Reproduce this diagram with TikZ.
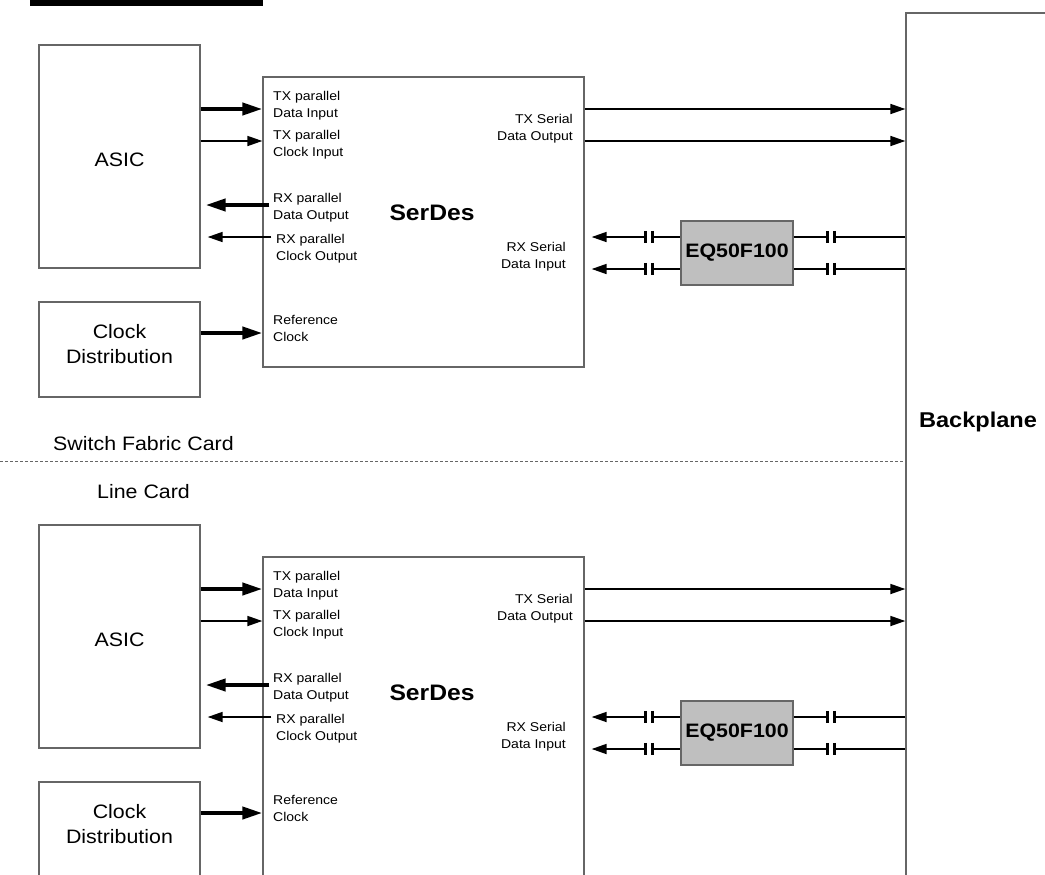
\documentclass[tikz,border=0pt]{standalone}
\usepackage{fontspec}
\setmainfont{Liberation Sans}[FakeStretch=1.1]
\usepackage{tikz}
\usetikzlibrary{arrows.meta,shapes}

\tikzset{
  blk/.style={draw=black!60,line width=1.3bp,fill=white,inner sep=0pt},
  eqbox/.style={blk,fill=black!25,font=\fontsize{19.5}{23}\selectfont\bfseries},
  pinl/.style={anchor=west,align=left,inner sep=0pt,font=\fontsize{12.8}{17}\selectfont},
  pinr/.style={anchor=east,align=right,inner sep=0pt,font=\fontsize{12.8}{17}\selectfont},
  big/.style={align=center,inner sep=0pt,font=\fontsize{19.5}{25}\selectfont},
  fat/.style={-{Triangle[length=20bp,width=12bp]},line width=4bp},
  slim/.style={-{Triangle[length=15bp,width=10bp]},line width=1.7bp},
  wire/.style={line width=1.7bp},
  capnode/.style={minimum width=6.6bp,minimum height=12bp,inner sep=0pt},
}

\begin{document}
\begin{tikzpicture}
\useasboundingbox (0bp,0bp) rectangle (1045bp,-875bp);
\clip (0bp,0bp) rectangle (1045bp,-875bp);
\fill (30bp,0bp) rectangle (263bp,-5.5bp);

% backplane and card separator
\node (BP) at (988bp,-456.5bp)[blk,minimum width=164bp,minimum height=887bp] {};
\node (BPlbl) at (978bp,-422bp)[big,font=\fontsize{21.5}{25}\selectfont\bfseries] {Backplane};
\draw [black!60,line width=1bp,dash pattern=on 3bp off 2bp] (0bp,-461.5bp) -- (BP.west |- 0,-461.5bp);
\node (SFC) at (53bp,-444bp)[anchor=west,big] {Switch Fabric Card};
\node (LC) at (97bp,-492bp)[anchor=west,big] {Line Card};

% switch fabric card
\node (ASIC1) at (119.5bp,-156.5bp)[blk,minimum width=161bp,minimum height=223bp] {};
\node (ASIC1lbl) at (119.5bp,-160bp)[big] {ASIC};
\node (CLK1) at (119.5bp,-349.5bp)[blk,minimum width=161bp,minimum height=95bp] {};
\node (CLK1lbl) at (119.5bp,-344bp)[big] {Clock\\Distribution};
\node (SER1) at (423.5bp,-222bp)[blk,minimum width=321bp,minimum height=290bp] {};
\node (SER1lbl) at (432bp,-213bp)[big,font=\fontsize{22.5}{25}\selectfont\bfseries] {SerDes};
\node (EQ1) at (737bp,-253bp)[eqbox,minimum width=112bp,minimum height=64bp] {EQ50F100};
\node (txd1) at (273bp,-105.5bp)[pinl] {TX parallel\\Data Input};
\node (txc1) at (273bp,-144.3bp)[pinl] {TX parallel\\Clock Input};
\node (rxd1) at (273bp,-207.8bp)[pinl] {RX parallel\\Data Output};
\node (rxc1) at (276bp,-248.5bp)[pinl] {RX parallel\\Clock Output};
\node (ref1) at (273bp,-328.8bp)[pinl] {Reference\\Clock};
\node (txs1) at (573bp,-128.5bp)[pinr] {TX Serial\\Data Output};
\node (rxs1) at (566bp,-256.8bp)[pinr] {RX Serial\\Data Input};
\node (ca1) at (649bp,-237bp)[capnode] {};
\node (cb1) at (649bp,-269bp)[capnode] {};
\node (cc1) at (831bp,-237bp)[capnode] {};
\node (cd1) at (831bp,-269bp)[capnode] {};
\draw [fat] (ASIC1.east |- 0,-109bp) -- (SER1.west |- 0,-109bp);
\draw [slim] (ASIC1.east |- 0,-141bp) -- (SER1.west |- 0,-141bp);
\draw [fat,shorten <=-7bp,shorten >=5bp] (SER1.west |- 0,-205bp) -- (ASIC1.east |- 0,-205bp);
\draw [slim,shorten <=-9bp,shorten >=7bp] (SER1.west |- 0,-237bp) -- (ASIC1.east |- 0,-237bp);
\draw [fat] (CLK1.east |- 0,-333bp) -- (SER1.west |- 0,-333bp);
\draw [slim] (SER1.east |- 0,-109bp) -- (BP.west |- 0,-109bp);
\draw [slim] (SER1.east |- 0,-141bp) -- (BP.west |- 0,-141bp);
\draw [slim,shorten >=7bp] (ca1.west) -- (SER1.east |- ca1);
\draw [slim,shorten >=7bp] (cb1.west) -- (SER1.east |- cb1);
\draw [wire] (ca1.east) -- (EQ1.west |- ca1);
\draw [wire] (cb1.east) -- (EQ1.west |- cb1);
\draw [wire] (EQ1.east |- cc1) -- (cc1.west);
\draw [wire] (EQ1.east |- cd1) -- (cd1.west);
\draw [wire] (cc1.east) -- (BP.west |- cc1);
\draw [wire] (cd1.east) -- (BP.west |- cd1);

% line card
\node (ASIC2) at (119.5bp,-636.5bp)[blk,minimum width=161bp,minimum height=223bp] {};
\node (ASIC2lbl) at (119.5bp,-640bp)[big] {ASIC};
\node (CLK2) at (119.5bp,-829.5bp)[blk,minimum width=161bp,minimum height=95bp] {};
\node (CLK2lbl) at (119.5bp,-824bp)[big] {Clock\\Distribution};
\node (SER2) at (423.5bp,-722bp)[blk,minimum width=321bp,minimum height=330bp] {};
\node (SER2lbl) at (432bp,-693bp)[big,font=\fontsize{22.5}{25}\selectfont\bfseries] {SerDes};
\node (EQ2) at (737bp,-733bp)[eqbox,minimum width=112bp,minimum height=64bp] {EQ50F100};
\node (txd2) at (273bp,-585.5bp)[pinl] {TX parallel\\Data Input};
\node (txc2) at (273bp,-624.3bp)[pinl] {TX parallel\\Clock Input};
\node (rxd2) at (273bp,-687.8bp)[pinl] {RX parallel\\Data Output};
\node (rxc2) at (276bp,-728.5bp)[pinl] {RX parallel\\Clock Output};
\node (ref2) at (273bp,-808.8bp)[pinl] {Reference\\Clock};
\node (txs2) at (573bp,-608.5bp)[pinr] {TX Serial\\Data Output};
\node (rxs2) at (566bp,-736.8bp)[pinr] {RX Serial\\Data Input};
\node (ca2) at (649bp,-717bp)[capnode] {};
\node (cb2) at (649bp,-749bp)[capnode] {};
\node (cc2) at (831bp,-717bp)[capnode] {};
\node (cd2) at (831bp,-749bp)[capnode] {};
\draw [fat] (ASIC2.east |- 0,-589bp) -- (SER2.west |- 0,-589bp);
\draw [slim] (ASIC2.east |- 0,-621bp) -- (SER2.west |- 0,-621bp);
\draw [fat,shorten <=-7bp,shorten >=5bp] (SER2.west |- 0,-685bp) -- (ASIC2.east |- 0,-685bp);
\draw [slim,shorten <=-9bp,shorten >=7bp] (SER2.west |- 0,-717bp) -- (ASIC2.east |- 0,-717bp);
\draw [fat] (CLK2.east |- 0,-813bp) -- (SER2.west |- 0,-813bp);
\draw [slim] (SER2.east |- 0,-589bp) -- (BP.west |- 0,-589bp);
\draw [slim] (SER2.east |- 0,-621bp) -- (BP.west |- 0,-621bp);
\draw [slim,shorten >=7bp] (ca2.west) -- (SER2.east |- ca2);
\draw [slim,shorten >=7bp] (cb2.west) -- (SER2.east |- cb2);
\draw [wire] (ca2.east) -- (EQ2.west |- ca2);
\draw [wire] (cb2.east) -- (EQ2.west |- cb2);
\draw [wire] (EQ2.east |- cc2) -- (cc2.west);
\draw [wire] (EQ2.east |- cd2) -- (cd2.west);
\draw [wire] (cc2.east) -- (BP.west |- cc2);
\draw [wire] (cd2.east) -- (BP.west |- cd2);

% capacitor plates
\foreach \c in {ca1,cb1,cc1,cd1,ca2,cb2,cc2,cd2}
  \draw [line width=2.2bp] (\c.north west) -- (\c.south west) (\c.north east) -- (\c.south east);
\end{tikzpicture}
\end{document}
